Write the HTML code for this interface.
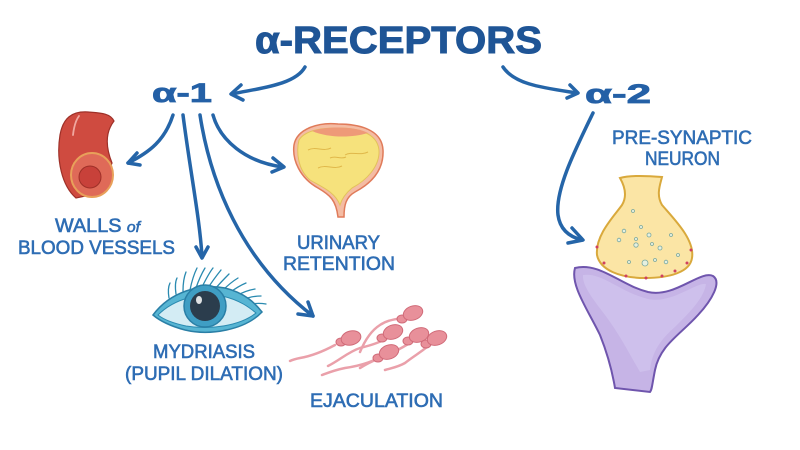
<!DOCTYPE html>
<html><head><meta charset="utf-8"><style>
html,body{margin:0;padding:0;background:#fff;}
svg{display:block;}
text{font-family:"Liberation Sans",sans-serif;}
</style></head><body>
<svg width="800" height="450" viewBox="0 0 800 450" xmlns="http://www.w3.org/2000/svg">
<rect width="800" height="450" fill="#fff"/>

<!-- Title -->
<text x="255" y="53" font-size="38" font-weight="bold" fill="#1f5596" stroke="#1f5596" stroke-width="1" textLength="287" lengthAdjust="spacingAndGlyphs">α-RECEPTORS</text>
<text x="152" y="102" font-size="27" font-weight="bold" fill="#2460a6" stroke="#2460a6" stroke-width="0.8" textLength="60" lengthAdjust="spacingAndGlyphs">α-1</text>
<text x="585" y="103" font-size="27" font-weight="bold" fill="#2460a6" stroke="#2460a6" stroke-width="0.8" textLength="66" lengthAdjust="spacingAndGlyphs">α-2</text>

<!-- Arrows -->
<g fill="none" stroke="#2565a8" stroke-width="3.5" stroke-linecap="round" stroke-linejoin="round">
  <path d="M305,67 C295,85 260,88 232,94"/>
  <path d="M241,85 L231,94 L243,100"/>
  <path d="M503,67 C515,85 545,88 577,93"/>
  <path d="M570,85 L578,93 L567,98"/>
  <path d="M593,113 C575,150 555,190 558,215 C560,230 570,237 582,240"/>
  <path d="M572,228 L583,240 L568,243"/>
  <path d="M173,115 C165,140 150,152 128,163"/>
  <path d="M137,153 L128,163 L140,165"/>
  <path d="M183,115 C190,170 200,220 202,257"/>
  <path d="M196,247 L202,258 L208,247"/>
  <path d="M200,115 C210,180 240,260 313,316"/>
  <path d="M298,314 L313,316 L308,302"/>
  <path d="M213,115 C220,140 245,162 283,167"/>
  <path d="M273,158 L284,167 L272,172"/>
</g>

<!-- Blood vessel -->
<path d="M76,198 C62,186 56,160 60,135 C63,118 72,111 88,112 C100,113 110,113 114,121 C107,130 104,143 112,163 L100,193 Z" fill="#cf4b40" stroke="#9e3028" stroke-width="1.2"/>
<path d="M73,135 C74,126 76,120 79,116" stroke="#f0a8a0" stroke-width="1.8" fill="none" stroke-linecap="round"/>
<ellipse cx="92" cy="175" rx="21" ry="22" fill="#df6a58" stroke="#e8a05a" stroke-width="2"/>
<circle cx="90" cy="177" r="11" fill="#c8413a" stroke="#9e3028" stroke-width="1"/>

<!-- Bladder -->
<path d="M338,217 C336,200 330,195 318,188 C300,178 292,160 294,145 C297,128 320,122 338,124 C360,124 382,130 383,150 C384,170 372,183 355,192 C346,197 344,205 344,217 Z" fill="#f4bca4" stroke="#e07b5a" stroke-width="1.5"/>
<path d="M340,205 C335,192 322,187 310,180 C298,170 296,152 299,140 C306,129 325,128 338,128 C356,128 377,132 379,150 C380,166 367,180 352,188 C346,193 342,198 340,205 Z" fill="#f6e27c" stroke="#e3c35a" stroke-width="1"/>
<path d="M312,131 C326,126 356,126 368,133 C352,138 328,138 312,131 Z" fill="#ee9a78"/>
<g stroke="#e0b84a" stroke-width="1" fill="none">
<path d="M308,150 C316,146 323,152 331,148"/>
<path d="M345,155 C352,151 360,156 368,152"/>
<path d="M318,168 C326,164 334,170 342,166"/>
<path d="M330,158 C336,155 340,160 346,157"/>
</g>

<!-- Eye -->
<g fill="none" stroke="#2a8ab0" stroke-width="1.3" stroke-linecap="round">
<path d="M190,290 C192,280 194,274 197,268"/>
<path d="M196,288 C199,279 202,273 205,268"/>
<path d="M202,287 C206,279 209,273 213,268"/>
<path d="M208,288 C213,280 217,275 221,270"/>
<path d="M215,289 C221,282 225,278 229,274"/>
<path d="M222,291 C228,285 233,281 238,278"/>
<path d="M229,293 C236,288 241,285 246,283"/>
<path d="M236,296 C243,292 249,290 255,289"/>
<path d="M242,300 C249,297 255,296 261,296"/>
<path d="M247,305 C254,303 260,303 266,304"/>
<path d="M183,291 C183,283 184,277 186,272"/>
<path d="M176,294 C175,287 175,282 177,278"/>
<path d="M169,298 C168,292 168,287 170,283"/>
</g>
<path d="M153,315 C170,292 200,283 225,288 C245,293 255,303 262,312 C245,330 210,336 185,330 C170,326 160,321 153,315 Z" fill="#57b5d3" stroke="#2a7fa6" stroke-width="1.5"/>
<path d="M158,315 C175,298 200,293 222,296 C240,300 250,308 256,313 C240,326 210,330 186,326 C172,323 163,319 158,315 Z" fill="#d3ecf4" stroke="#2a8ab0" stroke-width="1"/>
<circle cx="205" cy="306" r="21" fill="#3f9ec4" stroke="#2a7fa6" stroke-width="1.5"/>
<circle cx="205" cy="306" r="15" fill="#2b3d4d"/>
<ellipse cx="199" cy="300" rx="3" ry="4" fill="#fff" opacity="0.85"/>

<!-- Sperm -->
<g fill="none" stroke="#eaa0aa" stroke-width="2.5" stroke-linecap="round">
<path d="M335,345 C322,352 312,356 300,358 C295,359 292,360 290,361"/>
<path d="M392,335 C382,342 372,345 360,348 C348,352 340,360 328,366"/>
<path d="M412,315 C400,320 390,318 380,325 C372,330 365,340 360,352"/>
<path d="M418,337 C408,345 398,350 385,356 C375,360 370,362 360,368"/>
<path d="M435,340 C425,350 415,355 405,363 C398,367 392,368 385,370"/>
<path d="M388,354 C375,360 365,365 345,368 C335,370 330,372 322,375"/>
</g>
<g fill="#e8909a" stroke="#d06a78" stroke-width="1">
<ellipse cx="341" cy="342" rx="5" ry="4"/>
<ellipse cx="351" cy="338" rx="10" ry="7" transform="rotate(-15 351 338)"/>
<ellipse cx="402" cy="319" rx="5" ry="4"/>
<ellipse cx="413" cy="313" rx="10" ry="7" transform="rotate(-20 413 313)"/>
<ellipse cx="382" cy="338" rx="5" ry="4"/>
<ellipse cx="393" cy="332" rx="10" ry="7" transform="rotate(-20 393 332)"/>
<ellipse cx="408" cy="341" rx="5" ry="4"/>
<ellipse cx="419" cy="335" rx="10" ry="7" transform="rotate(-20 419 335)"/>
<ellipse cx="426" cy="344" rx="5" ry="4"/>
<ellipse cx="437" cy="338" rx="10" ry="7" transform="rotate(-20 437 338)"/>
<ellipse cx="378" cy="358" rx="5" ry="4"/>
<ellipse cx="389" cy="352" rx="10" ry="7" transform="rotate(-20 389 352)"/>
</g>

<!-- Synapse -->
<path d="M575,268 C600,262 620,285 648,292 C675,298 700,270 713,276 C722,282 712,300 698,315 C680,335 660,345 655,370 C652,385 652,390 650,392 L615,388 C612,370 608,355 600,335 C588,310 570,285 575,268 Z" fill="#c6b4e6" stroke="#6f55ad" stroke-width="2"/>
<path d="M583,275 C602,272 620,292 648,299 C672,304 696,282 706,284 C704,298 690,312 676,326 C660,340 652,352 650,370 L640,372 C630,355 620,335 605,315 C592,298 582,285 583,275 Z" fill="#d2c4ee" opacity="0.7"/>
<path d="M620,178 C630,175 650,176 662,177 C660,185 656,195 662,205 C675,220 695,240 692,258 C690,272 670,278 645,278 C620,278 600,270 597,255 C595,235 615,215 622,205 C628,195 624,185 620,178 Z" fill="#fbe5a5" stroke="#d9a93c" stroke-width="2"/>
<g fill="#e6f0e0" stroke="#7aa8a0" stroke-width="0.8">
<circle cx="633" cy="211" r="1.5"/><circle cx="624" cy="231" r="1.8"/><circle cx="641" cy="227" r="1.5"/>
<circle cx="649" cy="235" r="2"/><circle cx="636" cy="239" r="1.5"/><circle cx="619" cy="240" r="1.8"/>
<circle cx="636" cy="245" r="2.2"/><circle cx="660" cy="248" r="2"/><circle cx="652" cy="244" r="1.5"/>
<circle cx="629" cy="262" r="1.5"/><circle cx="645" cy="263" r="3"/><circle cx="655" cy="260" r="1.5"/>
<circle cx="666" cy="262" r="1.8"/><circle cx="678" cy="255" r="1.5"/><circle cx="671" cy="235" r="1.5"/>
</g>
<g fill="#d04060">
<circle cx="597" cy="247" r="1.5"/><circle cx="604" cy="263" r="1.5"/><circle cx="626" cy="276" r="1.5"/>
<circle cx="646" cy="278" r="1.5"/><circle cx="662" cy="276" r="1.5"/><circle cx="675" cy="271" r="1.5"/>
<circle cx="687" cy="263" r="1.5"/><circle cx="691" cy="250" r="1.5"/>
</g>

<!-- Labels -->
<g fill="#2e6db4" stroke="#2e6db4" stroke-width="0.6" font-size="19">
<text x="612" y="144" textLength="140" lengthAdjust="spacingAndGlyphs">PRE-SYNAPTIC</text>
<text x="645" y="165" textLength="75" lengthAdjust="spacingAndGlyphs">NEURON</text>
<text x="55" y="232" textLength="85" lengthAdjust="spacingAndGlyphs">WALLS <tspan font-size="15" font-style="italic">of</tspan></text>
<text x="18" y="254" textLength="157" lengthAdjust="spacingAndGlyphs">BLOOD VESSELS</text>
<text x="297" y="249" textLength="83" lengthAdjust="spacingAndGlyphs">URINARY</text>
<text x="283" y="270" textLength="112" lengthAdjust="spacingAndGlyphs">RETENTION</text>
<text x="153" y="358" textLength="102" lengthAdjust="spacingAndGlyphs">MYDRIASIS</text>
<text x="125" y="380" textLength="158" lengthAdjust="spacingAndGlyphs">(PUPIL DILATION)</text>
<text x="310" y="407" textLength="133" lengthAdjust="spacingAndGlyphs">EJACULATION</text>
</g>
</svg>
</body></html>
